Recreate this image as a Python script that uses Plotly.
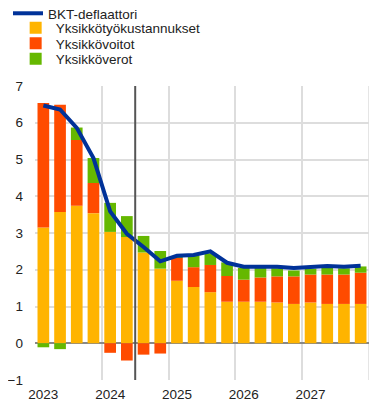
import plotly.graph_objects as go

quarters = list(range(20))  # 2023Q1 .. 2027Q4
year_labels = ["2023", "2024", "2025", "2026", "2027"]
year_ticks = [0, 4, 8, 12, 16]

unit_labour = [3.15, 3.57, 3.74, 3.54, 3.03, 2.89, 2.47, 2.03, 1.70, 1.53,
               1.39, 1.13, 1.13, 1.13, 1.11, 1.07, 1.11, 1.07, 1.07, 1.07]
unit_profits = [3.39, 2.92, 1.79, 0.82, -0.26, -0.47, -0.31, -0.28, 0.62, 0.54,
                0.74, 0.70, 0.60, 0.66, 0.71, 0.75, 0.76, 0.80, 0.80, 0.85]
unit_taxes = [-0.11, -0.16, 0.34, 0.68, 0.79, 0.57, 0.45, 0.48, 0.03, 0.31,
              0.32, 0.37, 0.32, 0.27, 0.22, 0.16, 0.16, 0.20, 0.17, 0.17]
gdp_deflator = [6.47, 6.36, 5.86, 5.04, 3.59, 2.98, 2.62, 2.23, 2.38, 2.40,
                2.50, 2.19, 2.08, 2.08, 2.08, 2.05, 2.07, 2.10, 2.08, 2.11]

names = ["BKT-deflaattori", "Yksikkötyökustannukset", "Yksikkövoitot", "Yksikköverot"]
colors = ["#003299", "#FFB400", "#FF4B00", "#65B800"]
legend_ids = ["legend", "legend2", "legend3", "legend4"]

fig = go.Figure()
fig.add_trace(go.Scatter(x=quarters, y=gdp_deflator, name=names[0], mode="lines",
                         line=dict(color=colors[0], width=4), legend=legend_ids[0]))
for vals, nm, col, lg in zip([unit_labour, unit_profits, unit_taxes], names[1:], colors[1:],
                             legend_ids[1:]):
    fig.add_trace(go.Bar(x=quarters, y=vals, name=nm, marker=dict(color=col, line=dict(width=0)),
                         width=0.7, legend=lg))

fig.add_shape(type="line", x0=5.5, x1=5.5, y0=-1, y1=7, xref="x", yref="y",
              line=dict(color="#555555", width=2), layer="above")

FIG_H = 403
row_centers = [5.5, 20, 35.5, 51]  # px from top of figure
row_x = [0.0, 0.02, 0.02, 0.02]
legends = {}
for lg, rc, lx in zip(legend_ids, row_centers, row_x):
    legends[lg] = dict(xref="container", yref="container", x=lx, y=1 - rc / FIG_H,
                       xanchor="left", yanchor="middle", bgcolor="rgba(0,0,0,0)",
                       font=dict(size=13.5, color="#222222"))

fig.update_layout(
    width=383, height=FIG_H,
    barmode="relative",
    paper_bgcolor="white", plot_bgcolor="white",
    margin=dict(l=27, r=22, t=78, b=31, autoexpand=False),
    font=dict(family="Liberation Sans, Arial, sans-serif", size=13, color="#333333"),
    showlegend=True,
    **legends,
)
fig.update_xaxes(range=[-0.5, 19.5], tickmode="array", tickvals=year_ticks, ticktext=year_labels,
                 showgrid=False, zeroline=False, ticks="", showline=False,
                 ticklabelstandoff=4,
                 tickfont=dict(size=13.5, color="#222222"),
                 minor=dict(tickmode="linear", tick0=-0.5, dtick=4, showgrid=True,
                            gridcolor="#DDDDDD", gridwidth=1.5, ticks=""))
fig.update_yaxes(range=[-1, 7], dtick=1, showgrid=True, gridcolor="#DDDDDD", gridwidth=1.5,
                 zeroline=True, zerolinecolor="#888888", zerolinewidth=1.5, ticks="",
                 showline=False, ticklabelstandoff=11,
                 tickfont=dict(size=13.5, color="#222222"))
fig.add_shape(type="line", x0=19.5, x1=19.5, y0=-1, y1=7, xref="x", yref="y",
              line=dict(color="#DDDDDD", width=1.5), layer="below")

fig.write_html("out.html")
